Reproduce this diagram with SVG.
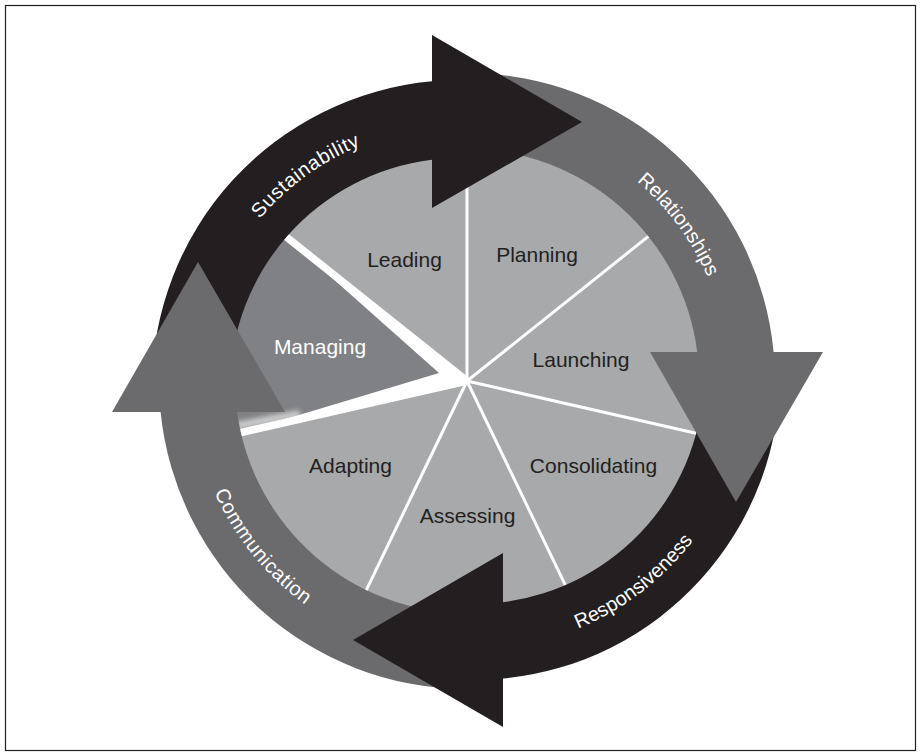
<svg xmlns="http://www.w3.org/2000/svg" width="922" height="756" viewBox="0 0 922 756">
  <style>
    .slice { fill: #a7a9ab; }
    .slice.dark { fill: #808184; }
    .lbl { font-family: "Liberation Sans", Arial, sans-serif; font-size: 21px; fill: #231f20; text-anchor: middle; }
    .lbl.light { fill: #ffffff; }
    .spoke { stroke: #ffffff; stroke-width: 3; fill: none; }
    .spoke.thick { stroke-width: 7.5; }
    .black { fill: #231f20; }
    .gray { fill: #6b6b6d; }
    .ring-lbl { font-family: "Liberation Sans", Arial, sans-serif; font-size: 20px; fill: #ffffff; }
  </style>
  <defs>
    <filter id="soft" filterUnits="userSpaceOnUse" x="180" y="370" width="160" height="100">
      <feGaussianBlur stdDeviation="2.5"/>
    </filter>
    <!-- baselines for the curved ring captions -->
    <path id="arc-sustainability" d="M201.23,347.02 A262,262 0 0 1 500.98,129.23"/>
    <path id="arc-relationships" d="M505.73,121.88 A262,262 0 0 1 726.12,419.73"/>
    <path id="arc-responsiveness" d="M438.10,646.65 A275,275 0 0 0 746.65,409.90"/>
    <path id="arc-communication" d="M192.51,352.15 A276,276 0 0 0 438.15,655.49"/>
  </defs>

  <rect x="5.5" y="5.5" width="910" height="745" fill="#ffffff" stroke="#231f20" stroke-width="1.2"/>

  <!-- seven stages of the cycle -->
  <g id="stages">
    <g id="stage-planning">
      <path class="slice" d="M467,381 L467,145 A236,236 0 0 1 651.51,233.86 Z"/>
      <text class="lbl" x="537" y="262">Planning</text>
    </g>
    <g id="stage-launching">
      <path class="slice" d="M467,381 L651.51,233.86 A236,236 0 0 1 697.08,433.51 Z"/>
      <text class="lbl" x="581" y="367">Launching</text>
    </g>
    <g id="stage-consolidating">
      <path class="slice" d="M467,381 L697.08,433.51 A236,236 0 0 1 569.40,593.63 Z"/>
      <text class="lbl" x="593.5" y="473">Consolidating</text>
    </g>
    <g id="stage-assessing">
      <path class="slice" d="M467,381 L569.40,593.63 A236,236 0 0 1 364.60,593.63 Z"/>
      <text class="lbl" x="467.5" y="523">Assessing</text>
    </g>
    <g id="stage-adapting">
      <path class="slice" d="M467,381 L364.60,593.63 A236,236 0 0 1 236.92,433.51 Z"/>
      <text class="lbl" x="350.5" y="473">Adapting</text>
    </g>
    <g id="stage-managing">
      <path class="slice dark" d="M439,373 L236.92,433.51 A236,236 0 0 1 282.49,233.86 Z"/>
      <text class="lbl light" x="320" y="354">Managing</text>
    </g>
    <g id="stage-leading">
      <path class="slice" d="M467,381 L282.49,233.86 A236,236 0 0 1 467,145 Z"/>
      <text class="lbl" x="404.5" y="267">Leading</text>
    </g>
  </g>

  <!-- dividing lines between the stages -->
  <g id="dividers">
    <line x1="300" y1="414" x2="236" y2="426" stroke="#ffffff" stroke-width="8" opacity="0.6" filter="url(#soft)"/>
    <line class="spoke" x1="467" y1="381" x2="467" y2="145"/>
    <line class="spoke" x1="467" y1="381" x2="651.51" y2="233.86"/>
    <line class="spoke" x1="467" y1="381" x2="697.08" y2="433.51"/>
    <line class="spoke" x1="467" y1="381" x2="569.40" y2="593.63"/>
    <line class="spoke" x1="467" y1="381" x2="364.60" y2="593.63"/>
    <line class="spoke thick" x1="467" y1="381" x2="282.49" y2="233.86"/>
    <line class="spoke thick" x1="467" y1="381" x2="236.92" y2="433.51"/>
  </g>

  <!-- outer ring: four curved arrow bodies -->
  <g id="ring">
    <g id="ring-sustainability">
      <path class="black" d="M152,388 A308,308 0 0 1 432,81.3 L432,159.7 A230,230 0 0 0 230,388 Z"/>
      <text class="ring-lbl" letter-spacing="0.6"><textPath href="#arc-sustainability" startOffset="50%" text-anchor="middle">Sustainability</textPath></text>
    </g>
    <g id="ring-relationships">
      <path class="gray" d="M467,73 A308,308 0 0 1 773.6,352 L697.2,352 A232,232 0 0 0 467,149 Z"/>
      <text class="ring-lbl"><textPath href="#arc-relationships" startOffset="50%" text-anchor="middle">Relationships</textPath></text>
    </g>
    <g id="ring-responsiveness">
      <path class="black" d="M780,374 A306,306 0 0 1 503,678.6 L503,602.2 A230,230 0 0 0 704,374 Z"/>
      <text class="ring-lbl"><textPath href="#arc-responsiveness" startOffset="50%" text-anchor="middle">Responsiveness</textPath></text>
    </g>
    <g id="ring-communication">
      <path class="gray" d="M467,689 A308,308 0 0 1 160.6,412 L237.1,412 A232,232 0 0 0 467,613 Z"/>
      <text class="ring-lbl" letter-spacing="0.6"><textPath href="#arc-communication" startOffset="50%" text-anchor="middle">Communication</textPath></text>
    </g>
  </g>

  <!-- arrowheads sit above every ring body -->
  <g id="arrowheads">
    <polygon id="head-sustainability" class="black" points="432,35 582,122 432,208"/>
    <polygon id="head-relationships" class="gray" points="650,352 823,352 736,502"/>
    <polygon id="head-responsiveness" class="black" points="503,553 503,727 353,640"/>
    <polygon id="head-communication" class="gray" points="112,412 285,412 198,262"/>
  </g>
</svg>
